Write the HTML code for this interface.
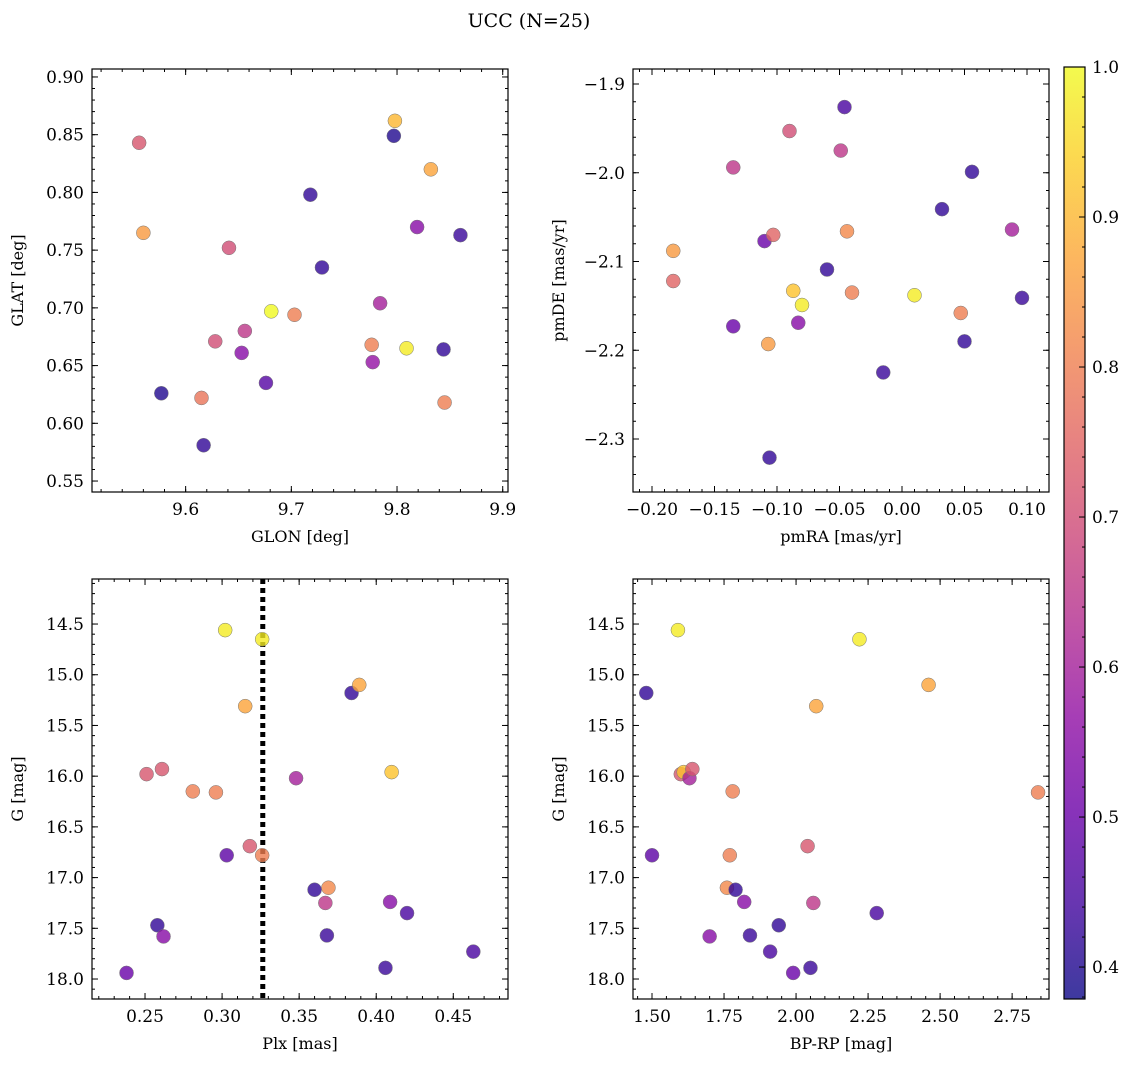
<!DOCTYPE html>
<html><head><meta charset="utf-8"><style>
html,body{margin:0;padding:0;background:#fff;}
svg{display:block;font-family:"DejaVu Serif","Liberation Serif",serif;}
</style></head><body>
<svg id="fig" width="1136" height="1067" viewBox="0 0 1136 1067" xmlns="http://www.w3.org/2000/svg">
<defs>
<linearGradient id="cbgrad" x1="0" y1="1" x2="0" y2="0">
<stop offset="0" stop-color="#0d0887"/><stop offset="0.1" stop-color="#41049d"/><stop offset="0.2" stop-color="#6a00a8"/><stop offset="0.3" stop-color="#8f0da4"/><stop offset="0.4" stop-color="#b12a90"/><stop offset="0.5" stop-color="#cc4778"/><stop offset="0.6" stop-color="#e16462"/><stop offset="0.7" stop-color="#f2844b"/><stop offset="0.8" stop-color="#fca636"/><stop offset="0.9" stop-color="#fcce25"/><stop offset="1" stop-color="#f0f921"/>
</linearGradient>
</defs>
<text x="529" y="27" text-anchor="middle" font-size="19">UCC (N=25)</text>
</svg>
<script>
// ---- data ----
const glon = [9.556,9.560,9.577,9.615,9.617,9.628,9.641,9.653,9.656,9.676,9.681,9.703,9.718,9.729,9.776,9.777,9.784,9.797,9.798,9.809,9.819,9.832,9.844,9.845,9.860];
const glat = [0.843,0.765,0.626,0.622,0.581,0.671,0.752,0.661,0.680,0.635,0.697,0.694,0.798,0.735,0.668,0.653,0.704,0.849,0.862,0.665,0.770,0.820,0.664,0.618,0.763];
const probTL = [0.72,0.85,0.40,0.78,0.42,0.70,0.70,0.55,0.65,0.47,1.0,0.80,0.42,0.42,0.80,0.57,0.60,0.40,0.90,0.98,0.55,0.87,0.42,0.80,0.43];
const pmra = [-0.183,-0.183,-0.135,-0.135,-0.110,-0.107,-0.106,-0.103,-0.090,-0.087,-0.083,-0.080,-0.060,-0.049,-0.046,-0.044,-0.040,-0.015,0.010,0.032,0.047,0.050,0.056,0.088,0.096];
const pmde = [-2.088,-2.122,-1.994,-2.173,-2.077,-2.193,-2.321,-2.070,-1.953,-2.133,-2.169,-2.149,-2.109,-1.975,-1.926,-2.066,-2.135,-2.225,-2.138,-2.041,-2.158,-2.190,-1.999,-2.064,-2.141];
const probTR = [0.85,0.75,0.65,0.50,0.50,0.85,0.42,0.75,0.70,0.92,0.55,0.98,0.42,0.65,0.45,0.82,0.80,0.43,0.98,0.42,0.80,0.42,0.42,0.60,0.43];
const plx = [0.238,0.251,0.258,0.261,0.262,0.281,0.296,0.302,0.303,0.315,0.318,0.326,0.326,0.348,0.360,0.369,0.367,0.368,0.384,0.389,0.406,0.410,0.409,0.420,0.463];
const gmagBL = [17.94,15.98,17.47,15.93,17.58,16.15,16.16,14.56,16.78,15.31,16.69,14.65,16.78,16.02,17.12,17.10,17.25,17.57,15.18,15.10,17.89,15.96,17.24,17.35,17.73];
const probBL = [0.50,0.72,0.42,0.72,0.55,0.80,0.80,0.98,0.48,0.87,0.72,0.98,0.80,0.60,0.42,0.82,0.65,0.43,0.42,0.87,0.43,0.92,0.55,0.45,0.45];
const plxLine = 0.3264;
const bprp = [1.48,1.50,1.59,1.60,1.61,1.63,1.64,1.70,1.76,1.77,1.78,1.79,1.82,1.84,1.94,1.91,1.99,2.04,2.05,2.06,2.07,2.22,2.28,2.46,2.84];
const gmagBR = [15.18,16.78,14.56,15.98,15.96,16.02,15.93,17.58,17.10,16.78,16.15,17.12,17.24,17.57,17.47,17.73,17.94,16.69,17.89,17.25,15.31,14.65,17.35,15.10,16.16];
const probBR = [0.42,0.48,0.98,0.72,0.92,0.60,0.72,0.55,0.82,0.80,0.80,0.42,0.55,0.43,0.42,0.45,0.50,0.72,0.43,0.65,0.87,0.98,0.45,0.87,0.80];
const tlXTicks = [9.6,9.7,9.8,9.9], tlXLabels = ["9.6","9.7","9.8","9.9"];
const tlYTicks = [0.55,0.60,0.65,0.70,0.75,0.80,0.85,0.90];
const trXTicks = [-0.20,-0.15,-0.10,-0.05,0.00,0.05,0.10], trXLabels=["−0.20","−0.15","−0.10","−0.05","0.00","0.05","0.10"];
const trYTicks = [-2.3,-2.2,-2.1,-2.0,-1.9], trYLabels=["−2.3","−2.2","−2.1","−2.0","−1.9"];
const blXTicks = [0.25,0.30,0.35,0.40,0.45];
const gYTicks = [14.5,15.0,15.5,16.0,16.5,17.0,17.5,18.0];
const brXTicks = [1.50,1.75,2.00,2.25,2.50,2.75];
const cbTicks = [0.4,0.5,0.6,0.7,0.8,0.9,1.0];
const vmin = 0.3787, vmax = 1.0;

const NS="http://www.w3.org/2000/svg";
const svg=document.getElementById('fig');
function el(tag,attrs,parent){const e=document.createElementNS(NS,tag);for(const k in attrs)e.setAttribute(k,attrs[k]);(parent||svg).appendChild(e);return e;}
const stops=[[13,8,135],[65,4,157],[106,0,168],[143,13,164],[177,42,144],[204,71,120],[225,100,98],[242,132,75],[252,166,54],[252,206,37],[240,249,33]];
function plasma(v){let t=(v-vmin)/(vmax-vmin);t=Math.max(0,Math.min(1,t))*10;const i=Math.min(9,Math.floor(t)),f=t-i;const a=stops[i],b=stops[i+1];return `rgb(${a.map((c,k)=>Math.round(c+(b[k]-c)*f)).join(',')})`;}

function panel(name,box,xr,yr,xt,xl,yt,yl,xminor,yminor,xlabel,ylabel,xs,ys,ps,vline){
  const [L,T,R,B]=box;
  const sx=v=>L+(v-xr[0])/(xr[1]-xr[0])*(R-L);
  const sy=v=>B-(v-yr[0])/(yr[1]-yr[0])*(B-T);
  const g=el('g',{});
  
  
  el('rect',{x:L,y:T,width:R-L,height:B-T,fill:'none',stroke:'#000','stroke-width':1.2},g);
  const lo=Math.min(xr[0],xr[1]),hi=Math.max(xr[0],xr[1]);
  for(let v=Math.ceil(lo/xminor-1e-6)*xminor;v<=hi+1e-9;v+=xminor){const x=sx(v);el('line',{x1:x,x2:x,y1:B,y2:B-3,stroke:'#000','stroke-width':1},g);el('line',{x1:x,x2:x,y1:T,y2:T+3,stroke:'#000','stroke-width':1},g);}
  const ylo=Math.min(yr[0],yr[1]),yhi=Math.max(yr[0],yr[1]);
  for(let v=Math.ceil(ylo/yminor-1e-6)*yminor;v<=yhi+1e-9;v+=yminor){const y=sy(v);el('line',{x1:L,x2:L+3,y1:y,y2:y,stroke:'#000','stroke-width':1},g);el('line',{x1:R,x2:R-3,y1:y,y2:y,stroke:'#000','stroke-width':1},g);}
  xt.forEach((v,i)=>{const x=sx(v);el('line',{x1:x,x2:x,y1:B,y2:B-6,stroke:'#000','stroke-width':1},g);el('line',{x1:x,x2:x,y1:T,y2:T+6,stroke:'#000','stroke-width':1},g);
    const t=el('text',{x:x,y:B+23,'text-anchor':'middle','font-size':17},g);t.textContent=xl[i];
    
    });
  yt.forEach((v,i)=>{const y=sy(v);el('line',{x1:L,x2:L+6,y1:y,y2:y,stroke:'#000','stroke-width':1},g);el('line',{x1:R,x2:R-6,y1:y,y2:y,stroke:'#000','stroke-width':1},g);
    const t=el('text',{x:L-8,y:y+6,'text-anchor':'end','font-size':17},g);t.textContent=yl[i];
    
    });
  if(vline!==undefined){const x=sx(vline);el('line',{x1:x,x2:x,y1:T,y2:B,stroke:'#000','stroke-width':5,'stroke-dasharray':'5,4'},g);}
  xs.forEach((v,i)=>{const c=el('circle',{cx:sx(v),cy:sy(ys[i]),r:7,fill:plasma(ps[i]),'fill-opacity':0.8,stroke:'#777','stroke-width':0.5},g);
    
    });
  const xlab=el('text',{x:(L+R)/2,y:B+50,'text-anchor':'middle','font-size':16},g);xlab.textContent=xlabel;
  
  
  const ylab=el('text',{x:0,y:0,'text-anchor':'middle','font-size':16,transform:`translate(${L-69},${(T+B)/2}) rotate(-90)`},g);ylab.textContent=ylabel;
  
  
}
const f2=a=>a.map(v=>v.toFixed(2)), f1=a=>a.map(v=>v.toFixed(1));
panel('glon-glat',[92,69,508,492],[9.5114,9.905],[0.5405,0.9069],tlXTicks,tlXLabels,tlYTicks,f2(tlYTicks),0.02,0.01,'GLON [deg]','GLAT [deg]',glon,glat,probTL);
panel('pm',[633,69,1049,492],[-0.2152,0.1176],[-2.3597,-1.8831],trXTicks,trXLabels,trYTicks,trYLabels,0.01,0.02,'pmRA [mas/yr]','pmDE [mas/yr]',pmra,pmde,probTR);
panel('plx-g',[92,579,508,999],[0.2156,0.4855],[18.197,14.056],blXTicks,f2(blXTicks),gYTicks,f1(gYTicks),0.01,0.1,'Plx [mas]','G [mag]',plx,gmagBL,probBL,plxLine);
panel('cmd',[633,579,1049,999],[1.434,2.878],[18.197,14.056],brXTicks,f2(brXTicks),gYTicks,f1(gYTicks),0.05,0.1,'BP-RP [mag]','G [mag]',bprp,gmagBR,probBR);

// colorbar
const cbL=1064,cbR=1085,cbT=67,cbB=999;
const cbsy=v=>cbB-(v-vmin)/(vmax-vmin)*(cbB-cbT);
const cb=el('g',{});


el('rect',{x:cbL,y:cbT,width:cbR-cbL,height:cbB-cbT,fill:'url(#cbgrad)','fill-opacity':0.8,stroke:'#000','stroke-width':1.2},cb);
for(let v=0.38;v<=1.0001;v+=0.02){const y=cbsy(v);el('line',{x1:cbR,x2:cbR-3,y1:y,y2:y,stroke:'#000','stroke-width':1},cb);}
cbTicks.forEach(v=>{const y=cbsy(v);el('line',{x1:cbR,x2:cbR-6,y1:y,y2:y,stroke:'#000','stroke-width':1},cb);
  const t=el('text',{x:cbR+7,y:y+6,'font-size':17},cb);t.textContent=v.toFixed(1);
  
  });
</script>
</body></html>
